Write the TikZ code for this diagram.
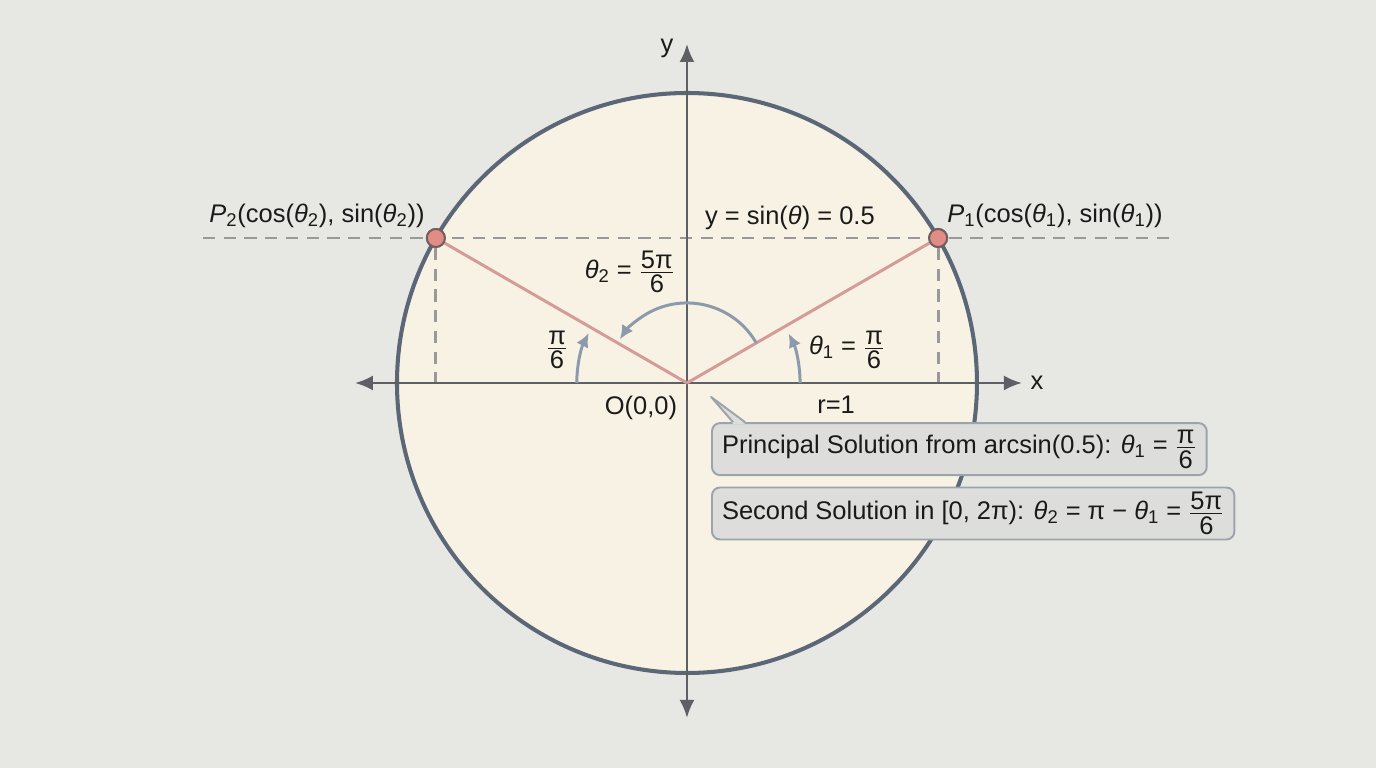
\documentclass[tikz,border=0pt]{standalone}
\usepackage{fontspec}
\setmainfont{Liberation Sans}
\usetikzlibrary{arrows.meta,positioning}

\definecolor{bgcol}{HTML}{E7E8E4}
\definecolor{circfill}{HTML}{F7F2E3}
\definecolor{circline}{HTML}{5B6676}
\definecolor{axiscol}{HTML}{5E6063}
\definecolor{radcol}{HTML}{D59B98}
\definecolor{dashcol}{HTML}{999999}
\definecolor{ptfill}{HTML}{E28C86}
\definecolor{ptline}{HTML}{6F5F5F}
\definecolor{arccol}{HTML}{8C9BAB}
\definecolor{boxfill}{HTML}{DDDEDC}
\definecolor{boxline}{HTML}{9DA3AA}
\definecolor{txtcol}{HTML}{1A1A1A}

\newcommand\sub[1]{$_{\mbox{\fontsize{10.5}{11}\selectfont#1}}$}
\newcommand\thn[1]{\textit{θ}\sub{#1}}
\newcommand\fr[2]{$\frac{\mbox{\raisebox{0pt}[\height][1.2pt]{#1}}}{\mbox{\raisebox{0pt}[\dimexpr\height+1.2pt][\depth]{#2}}}$}

\begin{document}
\begin{tikzpicture}[x=5.8cm,y=5.8cm,
		every node/.style={font=\fontsize{14.5}{17}\selectfont,text=txtcol},
		axis/.style={line width=1.4pt,draw=axiscol,{Latex[length=0.36cm,width=0.3cm]}-{Latex[length=0.36cm,width=0.3cm]}},
		radial/.style={line width=1.7pt,draw=radcol},
		guide/.style={line width=1.7pt,draw=dashcol,dash pattern=on 7pt off 4.8pt},
		angarc/.style={line width=1.7pt,draw=arccol,-{Latex[length=0.28cm,width=0.26cm]}},
		pt/.style={circle,draw=ptline,fill=ptfill,line width=1.1pt,inner sep=0pt,minimum size=0.36cm},
		callbox/.style={draw=boxline,fill=boxfill,line width=1.1pt,rounded corners=0.16cm,
			inner xsep=0.2cm,inner ysep=1pt,minimum height=1.04cm,anchor=west}]
			%\draw[help lines] (-2, -1) grid (2, 1);

			\fill[bgcol] (-2.369,-1.3276) rectangle (2.376,1.3207);
			\useasboundingbox (-2.369,-1.3276) rectangle (2.376,1.3207);

			\coordinate (O) at (0,0);
			\draw[line width=2.3pt,draw=circline,fill=circfill] (O) circle (1);

			\node[pt] (P1) at (30:1) {};
			\node[pt] (P2) at (150:1) {};
			\coordinate (F1) at (30:1 |- O);
			\coordinate (F2) at (150:1 |- O);

			% y = 0.5 line and the feet of both points
			\coordinate (gl) at (-1.669,0.5);
			\coordinate (gr) at (1.672,0.5);
			\draw[guide] (gl) -- (gr);
			\draw[guide] (P1) -- (F1);
			\draw[guide] (P2) -- (F2);

			\coordinate (xa) at (-1.145,0);
			\coordinate (xb) at (1.155,0);
			\coordinate (ya) at (0,-1.155);
			\coordinate (yb) at (0,1.169);
			\draw[axis] (xa) -- (xb);
			\draw[axis] (ya) -- (yb);

			\draw[radial] (O) -- (P1);
			\draw[radial] (O) -- (P2);

			\draw[angarc] (0.39,0) arc (0:26:0.39);
			\draw[angarc] (-0.38,0) arc (180:153:0.38);
			\draw[angarc] (30:0.276) arc (30:147:0.276);

			\node[pt] at (P1) {};
			\node[pt] at (P2) {};

			\node (xlbl) at (1.207,0) {x};
			\node (ylbl) at (-0.069,1.155) {y};
			\node (olbl) at (-0.159,-0.086) {O(0,0)};
			\node (rlbl) at (0.514,-0.076) {r=1};
			\node (t1lbl) at (0.552,0.114) {\thn{1} = \fr{π}{6}};
			\node (t0lbl) at (-0.448,0.114) {\fr{π}{6}};
			\node (t2lbl) at (-0.197,0.383) {\thn{2} = \fr{5π}{6}};
			\node (ylin) at (0.355,0.569) {y = sin(\textit{θ}) = 0.5};
			\node (p1lbl) at (1.269,0.576) {\textit{P}\sub{1}(cos(\thn{1}), sin(\thn{1}))};
			\node (p2lbl) at (-1.276,0.576) {\textit{P}\sub{2}(cos(\thn{2}), sin(\thn{2}))};

			% the two solution boxes
			\node[callbox] (box1) at (0.083,-0.228) {Principal Solution from arcsin(0.5): \thn{1} = \fr{π}{6}};
			\node[callbox] (box2) at (0.083,-0.45) {Second Solution in [0, 2π): \thn{2} = π − \thn{1} = \fr{5π}{6}};

			\coordinate (tip) at (0.083,-0.048);
			\fill[boxfill] ([xshift=0.44cm,yshift=-1pt]box1.north west) -- (tip) -- ([xshift=0.68cm,yshift=-1pt]box1.north west) -- cycle;
			\draw[boxline,line width=1.1pt,line join=round] ([xshift=0.44cm]box1.north west) -- (tip) -- ([xshift=0.68cm]box1.north west);
		\end{tikzpicture}
\end{document}
